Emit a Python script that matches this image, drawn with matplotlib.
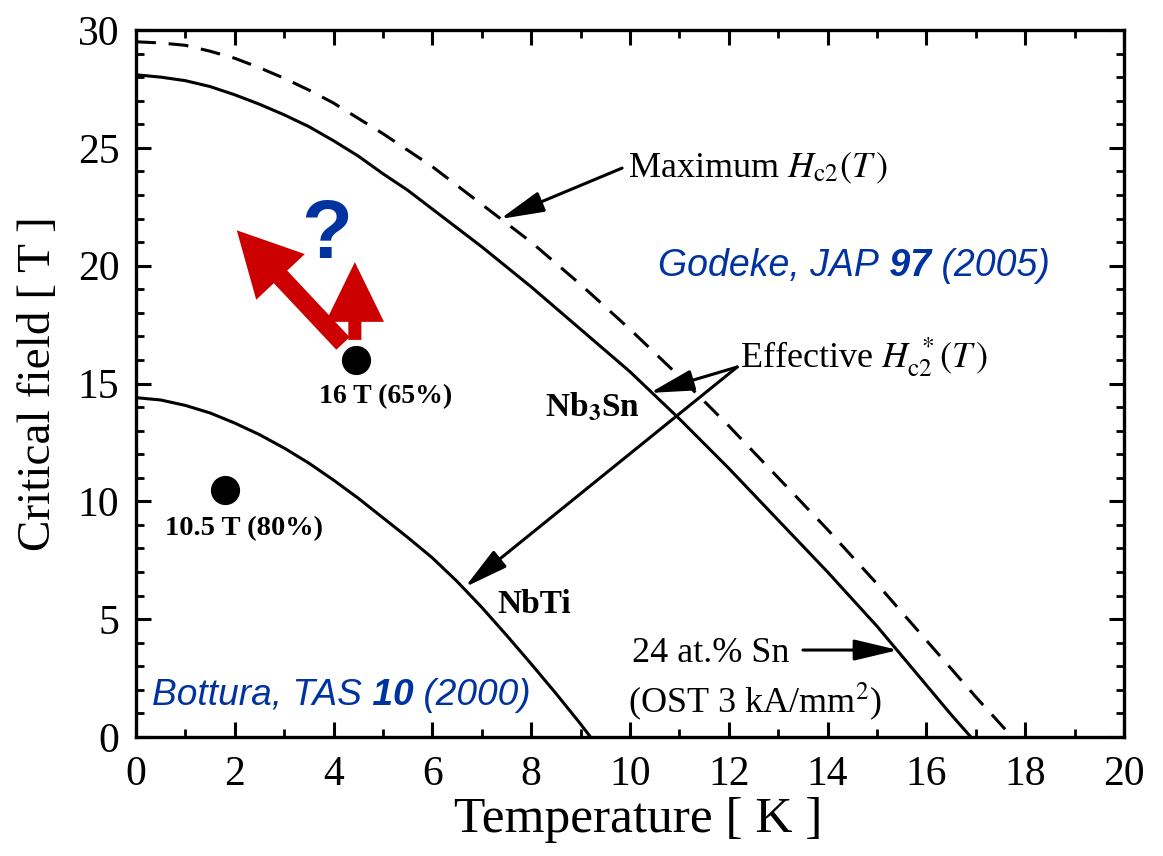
import matplotlib
matplotlib.use("Agg")
import matplotlib.pyplot as plt
import matplotlib.transforms as mtransforms
from matplotlib.ticker import MultipleLocator

plt.rcParams['font.family'] = ['Liberation Serif', 'DejaVu Serif']

# ---- data ----
T_nb3sn = [0, 0.5, 1, 1.5, 2, 2.5, 3, 3.5, 4, 4.5, 5, 5.5, 6, 6.5, 7, 7.5, 8, 8.5,
           9, 9.5, 10, 10.5, 11, 11.5, 12, 12.5, 13, 13.5, 14, 14.5, 15, 15.5,
           16, 16.5, 16.9]
B_nb3sn = [28.1, 28.0, 27.85, 27.6, 27.25, 26.85, 26.4, 25.9, 25.3, 24.65, 23.9,
           23.2, 22.4, 21.6, 20.8, 19.95, 19.1, 18.2, 17.3, 16.4, 15.5, 14.5,
           13.5, 12.45, 11.4, 10.3, 9.2, 8.1, 7.0, 5.85, 4.7, 3.45, 2.2, 0.95, 0.0]

T_max = [0, 0.5, 1, 1.5, 2, 2.5, 3, 3.5, 4, 4.5, 5, 5.5, 6, 6.5, 7, 7.5, 8, 8.5,
         9, 9.5, 10, 10.5, 11, 11.5, 12, 12.5, 13, 13.5, 14, 14.5, 15, 15.5,
         16, 16.5, 17, 17.65]
B_max = [29.5, 29.45, 29.35, 29.1, 28.8, 28.4, 27.95, 27.45, 26.9, 26.25, 25.6,
         24.9, 24.2, 23.4, 22.6, 21.8, 21.0, 20.1, 19.2, 18.25, 17.3, 16.3,
         15.3, 14.25, 13.2, 12.1, 11.0, 9.9, 8.8, 7.65, 6.5, 5.3, 4.1, 2.9,
         1.7, 0.2]

T_nbti = [0, 0.5, 1, 1.5, 2, 2.5, 3, 3.5, 4, 4.5, 5, 5.5, 6, 6.5, 7, 7.5, 8,
          8.5, 9, 9.2]
B_nbti = [14.4, 14.3, 14.07, 13.75, 13.32, 12.83, 12.26, 11.62, 10.9, 10.13,
          9.3, 8.47, 7.6, 6.6, 5.5, 4.32, 3.1, 1.85, 0.55, 0.0]

T_pts = [4.45, 1.8]
B_pts = [16.0, 10.5]
pt_labels = ['16 T (65%)', '10.5 T (80%)']

x_ticks = [0, 2, 4, 6, 8, 10, 12, 14, 16, 18, 20]
y_ticks = [0, 5, 10, 15, 20, 25, 30]

BLUE = '#0033a0'
RED = '#cc0000'

W, H = 1163, 856
fig = plt.figure(figsize=(W / 100, H / 100), dpi=100)
ax = fig.add_axes([136 / W, 1 - 737 / H, (1124 - 136) / W, (737 - 30) / H])

ax.plot(T_nb3sn, B_nb3sn, color='k', lw=2.2)
ax.plot(T_max, B_max, color='k', lw=2.2, dashes=(6.5, 4.2))
ax.plot(T_nbti, B_nbti, color='k', lw=2.2)
ax.plot(T_pts, B_pts, 'o', color='k', ms=20)

ax.set_xlim(0, 20)
ax.set_ylim(0, 30)
ax.set_xticks(x_ticks)
ax.set_yticks(y_ticks)
ax.xaxis.set_minor_locator(MultipleLocator(1))
ax.yaxis.set_minor_locator(MultipleLocator(1))
ax.tick_params(which='both', direction='in', top=True, right=True)
ax.tick_params(which='major', length=10.8, width=2.2, labelsize=30)
ax.tick_params(axis='x', which='major', pad=13)
ax.tick_params(axis='y', which='major', pad=12)
ax.tick_params(which='minor', length=5.8, width=2.0)
for s in ax.spines.values():
    s.set_linewidth(2.4)

ax.set_xlabel('Temperature [ K ]', fontsize=37, labelpad=2, x=0.508)
ax.set_ylabel('Critical field [ T ]', fontsize=34, labelpad=13)

# point labels
ax.text(5.06, 14.17, pt_labels[0], fontsize=20, fontweight='bold', ha='center', va='baseline')
ax.text(2.19, 8.57, pt_labels[1], fontsize=20.5, fontweight='bold', ha='center', va='baseline')

# material labels
ax.text(8.28, 13.58, r'Nb$_{\mathbf{3}}$Sn', fontsize=24, fontweight='bold',
        ha='left', va='baseline', math_fontfamily='stix')
ax.text(7.31, 5.26, 'NbTi', fontsize=24, fontweight='bold', ha='left', va='baseline')

# annotation texts
ax.text(9.96, 23.76, r'Maximum $H_{\rm c2}(T\,)$', fontsize=26, ha='left',
        va='baseline', math_fontfamily='stix')
ax.text(12.23, 15.7, r'Effective $H_{\rm c2}^{\ *}(T\,)$', fontsize=26, ha='left',
        va='baseline', math_fontfamily='stix')
ax.text(10.04, 3.18, '24 at.% Sn', fontsize=26, ha='left', va='baseline')
ax.text(9.96, 1.06, r'(OST 3 kA/mm$^2$)', fontsize=26, ha='left', va='baseline',
        math_fontfamily='stix')


# references (mixed italic / bold-italic sans, pieces placed side by side)
def multi_text(x, y, parts, fontsize):
    renderer = fig.canvas.get_renderer()
    trans = ax.transData
    for s, weight in parts:
        t = ax.text(x, y, s, transform=trans, fontsize=fontsize, color=BLUE,
                    family='Liberation Sans', style='italic', fontweight=weight,
                    ha='left', va='baseline')
        ex = t.get_window_extent(renderer=renderer)
        trans = trans + mtransforms.Affine2D().translate(ex.width, 0)


multi_text(10.57, 19.56, [('Godeke, JAP', 'normal'), (' 97', 'bold'),
                          (' (2005)', 'normal')], 27)
multi_text(0.32, 1.36, [('Bottura, TAS', 'normal'), (' 10', 'bold'),
                        (' (2000)', 'normal')], 26.7)

ax.text(3.85, 20.32, '?', fontsize=60, fontweight='bold', color=BLUE,
        family='Liberation Sans', ha='center', va='baseline')


# black arrows
def black_arrow(tail, tip):
    ax.annotate('', xy=tip, xytext=tail,
                arrowprops=dict(arrowstyle='-|>,head_length=1.8,head_width=0.43',
                                mutation_scale=15, color='k', lw=2.2,
                                shrinkA=0, shrinkB=0))


black_arrow((9.84, 24.14), (7.37, 21.98))
black_arrow((12.17, 15.7), (10.4, 14.6))
black_arrow((12.17, 15.7), (6.66, 6.36))
black_arrow((13.5, 3.69), (15.43, 3.69))

# red arrows
ax.annotate('', xy=(2.04, 21.5), xytext=(4.19, 16.7),
            arrowprops=dict(arrowstyle='simple,head_length=2.3,head_width=2.4,tail_width=0.66',
                            mutation_scale=20, color=RED, lw=0, shrinkA=0, shrinkB=0))
ax.annotate('', xy=(4.43, 20.15), xytext=(4.43, 16.85),
            arrowprops=dict(arrowstyle='simple,head_length=2.15,head_width=2.1,tail_width=0.47',
                            mutation_scale=20, color=RED, lw=0, shrinkA=0, shrinkB=0))

fig.savefig('out.png', dpi=100)
